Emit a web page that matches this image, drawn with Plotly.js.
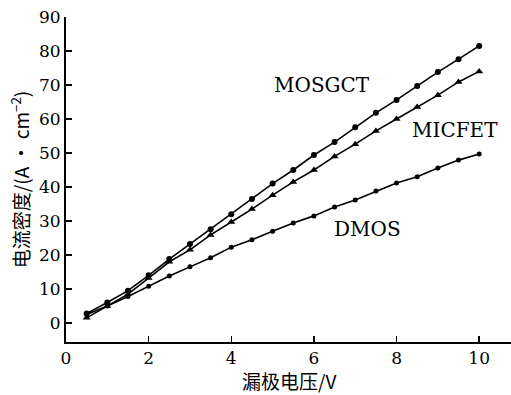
<!DOCTYPE html>
<html><head><meta charset="utf-8">
<script src="https://cdn.plot.ly/plotly-3.0.1.min.js"></script>
<style>html,body{margin:0;padding:0;background:#fff}</style>
</head><body><div id="chart" style="width:511px;height:395px"></div>
<script>
const voltage = [0.5,1,1.5,2,2.5,3,3.5,4,4.5,5,5.5,6,6.5,7,7.5,8,8.5,9,9.5,10];
const mosgct = [2.8,6,9.5,14,18.8,23.2,27.6,32,36.5,41,45,49.4,53.2,57.6,61.8,65.6,69.7,73.8,77.6,81.5];
const micfet = [1.5,5,8.5,13.2,18,21.5,25.9,29.7,33.5,37.6,41.5,45,49,52.6,56.5,60,63.5,67,70.9,74];
const dmos = [2.5,5,7.8,10.8,13.8,16.5,19.2,22.3,24.5,27,29.4,31.5,34.1,36.2,38.8,41.2,43,45.6,47.9,49.7];
const seriesNames = ['MOSGCT','MICFET','DMOS'];
const labelX = [6.2, 9.42, 7.29];
const labelY = [70, 56.8, 27.6];
const xTicks = [0,2,4,6,8,10];
const yTicks = [0,10,20,30,40,50,60,70,80,90];

const lineStyle = {color:'#000', width:1.6};
const traces = [
  {x:voltage, y:mosgct, mode:'lines+markers', line:lineStyle, marker:{symbol:'circle', size:6, color:'#000'}},
  {x:voltage, y:micfet, mode:'lines+markers', line:lineStyle, marker:{symbol:'triangle-up', size:7, color:'#000'}},
  {x:voltage, y:dmos, mode:'lines+markers', line:lineStyle, marker:{symbol:'circle', size:5, color:'#000'}}
];
const serif = 'DejaVu Serif, serif';
const annotations = seriesNames.map((n,i)=>({x:labelX[i], y:labelY[i], xref:'x', yref:'y', text:n, showarrow:false, font:{family:serif, size:20, color:'#000'}}));
annotations.push({x:0.5, y:0, xref:'paper', yref:'paper', xanchor:'center', yanchor:'top', yshift:-24, borderpad:0,
  text:'漏极电压/V', showarrow:false, font:{family:'Noto Sans CJK SC, '+serif, size:19, color:'#000'}});
const layout = {
  width:511, height:395,
  margin:{l:66, r:0, t:17, b:53},
  showlegend:false,
  paper_bgcolor:'#fff', plot_bgcolor:'#fff',
  font:{family:serif, size:17, color:'#000'},
  xaxis:{range:[0,10.77], tickvals:xTicks, ticktext:xTicks.map(String), ticks:'inside', ticklen:6, tickwidth:1.5, tickcolor:'#000',
    showline:true, linewidth:2, linecolor:'#000', showgrid:false, zeroline:false,
    tickfont:{family:serif, size:17}},
  yaxis:{range:[-5.6,90], tickvals:yTicks, ticktext:yTicks.map(String), ticks:'inside', ticklen:6, tickwidth:1.5, tickcolor:'#000',
    showline:true, linewidth:2, linecolor:'#000', showgrid:false, zeroline:false,
    tickfont:{family:serif, size:17},
    title:{text:'电流密度/(A • cm<sup>−2</sup>)', font:{family:'Noto Sans CJK SC, '+serif, size:19}, standoff:4}},
  annotations:annotations
};
Plotly.newPlot('chart', traces, layout, {staticPlot:true, displayModeBar:false});
</script></body></html>
